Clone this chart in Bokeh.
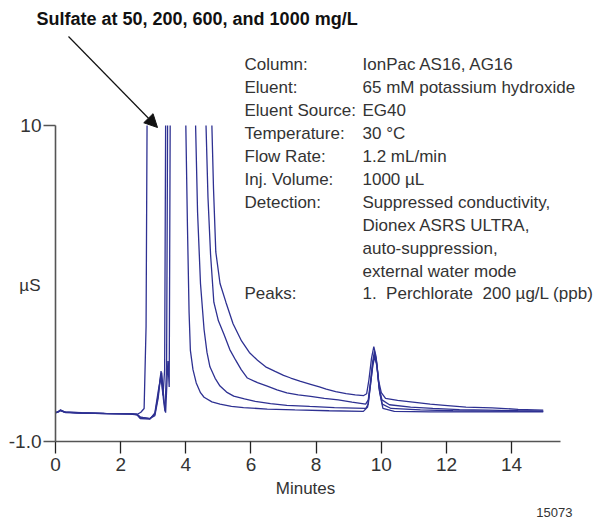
from bokeh.plotting import figure
from bokeh.models import Label, Arrow, NormalHead, FixedTicker, Range1d
from bokeh.embed import file_html
from bokeh.resources import INLINE

NaN = float("nan")
# ---- data (minutes, µS); the sulfate peaks run off scale above 10 µS (gap = off-scale) ----
t_1000 = [0, 0.1, 0.15, 0.25, 0.7, 1.5, 2.3, 2.5, 2.62, 2.72, 2.78, 2.81, 3.8, 4.80, 4.85, 4.92, 5.05, 5.23, 5.45, 5.71, 5.95, 6.2, 6.45, 6.74, 7.0, 7.22, 7.5, 7.83, 8.1, 8.31, 8.6, 8.92, 9.2, 9.46, 9.55, 9.62, 9.70, 9.77, 9.84, 9.92, 10.0, 10.13, 10.5, 10.97, 11.5, 11.94, 12.6, 13.4, 14.2, 14.97]
v_1000 = [0.0, 0.05, 0.1, 0.03, 0.0, -0.02, -0.03, -0.06, 0.02, 0.15, 3.0, 10.0, NaN, 10.0, 7.8, 5.6, 4.5, 3.85, 3.1, 2.5, 2.1, 1.83, 1.6, 1.44, 1.3, 1.21, 1.1, 0.99, 0.9, 0.82, 0.74, 0.67, 0.62, 0.6, 0.66, 1.15, 1.9, 2.3, 1.95, 1.1, 0.7, 0.5, 0.43, 0.37, 0.3, 0.26, 0.2, 0.17, 0.12, 0.09]

t_600 = [0, 0.1, 0.15, 0.3, 0.8, 1.6, 2.3, 2.5, 2.6, 2.9, 3.05, 3.15, 3.23, 3.3, 3.35, 3.38, 4.0, 4.62, 4.68, 4.76, 4.86, 5.0, 5.17, 5.35, 5.53, 5.7, 5.89, 6.2, 6.5, 6.8, 7.1, 7.45, 7.83, 8.25, 8.68, 9.1, 9.52, 9.6, 9.67, 9.73, 9.79, 9.85, 9.93, 10.02, 10.25, 10.9, 11.58, 12.4, 13.3, 14.2, 14.97]
v_600 = [0.0, 0.04, 0.08, 0.02, 0.0, -0.03, -0.04, -0.05, -0.15, -0.2, -0.1, 0.5, 1.3, 0.6, 1.5, 10.0, NaN, 10.0, 7.5, 5.5, 3.85, 3.2, 2.73, 2.2, 1.83, 1.5, 1.21, 1.05, 0.93, 0.8, 0.69, 0.62, 0.57, 0.5, 0.45, 0.37, 0.3, 0.45, 1.1, 1.75, 2.15, 1.8, 0.9, 0.45, 0.28, 0.2, 0.15, 0.11, 0.09, 0.07, 0.06]

t_200 = [0, 0.1, 0.15, 0.3, 0.8, 1.6, 2.3, 2.5, 2.6, 2.9, 3.05, 3.15, 3.24, 3.31, 3.36, 3.41, 3.44, 3.9, 4.30, 4.36, 4.45, 4.56, 4.65, 4.74, 4.9, 5.05, 5.25, 5.47, 5.8, 6.13, 6.6, 7.1, 7.8, 8.56, 9.52, 9.6, 9.68, 9.74, 9.8, 9.86, 9.94, 10.03, 10.3, 11.2, 12.2, 13.4, 14.97]
v_200 = [0.0, 0.05, 0.09, 0.02, -0.01, -0.03, -0.04, -0.06, -0.15, -0.2, -0.05, 0.6, 1.45, 0.5, 0.05, 1.6, 10.0, NaN, 10.0, 7.0, 4.5, 2.9, 2.1, 1.6, 1.2, 0.93, 0.72, 0.58, 0.48, 0.4, 0.32, 0.26, 0.22, 0.18, 0.15, 0.3, 1.1, 1.7, 2.05, 1.7, 0.8, 0.3, 0.15, 0.1, 0.07, 0.06, 0.05]

t_50 = [0, 0.1, 0.15, 0.3, 0.8, 1.6, 2.3, 2.5, 2.6, 2.9, 3.05, 3.16, 3.26, 3.33, 3.38, 3.45, 3.49, 3.52, 3.8, 4.00, 4.05, 4.10, 4.14, 4.22, 4.32, 4.45, 4.56, 4.8, 5.05, 5.4, 5.77, 6.5, 7.35, 8.4, 9.45, 9.58, 9.67, 9.74, 9.8, 9.87, 9.95, 10.05, 10.4, 11.5, 13.0, 14.97]
v_50 = [0.0, 0.04, 0.07, 0.01, -0.01, -0.03, -0.05, -0.07, -0.2, -0.22, 0.0, 0.8, 1.4, 0.4, 0.0, 1.8, 0.9, 10.0, NaN, 10.0, 6.5, 3.5, 2.17, 1.5, 1.04, 0.7, 0.54, 0.38, 0.3, 0.22, 0.18, 0.13, 0.1, 0.07, 0.05, 0.2, 1.0, 1.65, 1.95, 1.6, 0.7, 0.15, 0.05, 0.03, 0.03, 0.03]

x_ticks = [0, 2, 4, 6, 8, 10, 12, 14]
y_ticks = [-1, 10]
y_tick_labels = {-1: "-1.0", 10: "10"}

title_text = "Sulfate at 50, 200, 600, and 1000 mg/L"
info_keys = ["Column:", "Eluent:", "Eluent Source:", "Temperature:", "Flow Rate:", "Inj. Volume:", "Detection:", "", "", "", "Peaks:"]
info_vals = ["IonPac AS16, AG16", "65 mM potassium hydroxide", "EG40", "30 °C", "1.2 mL/min", "1000 µL",
             "Suppressed conductivity,", "Dionex ASRS ULTRA,", "auto-suppression,", "external water mode",
             "1.\u00a0 Perchlorate\u00a0 200 µg/L (ppb)"]

# ---- layout (pixels): the frame is the whole canvas, axes drawn at fixed data locations ----
W, H = 610, 525
AX_X, AX_Y = 55, 441              # pixel column of x=0 min, pixel row of y=-1 µS
PX_MIN = 32.58                    # pixels per minute
PY_TEN = 125                      # pixel row of the 10 µS tick
PX_UNIT = (AX_Y - PY_TEN) / 11.0  # pixels per µS

def dx(px):
    return (px - AX_X) / PX_MIN

def dy(py):
    return -1.0 + (AX_Y - py) / PX_UNIT

FONT = "Liberation Sans"
BLUE = "#2E3192"
GRAY = "#555555"
TXT = "#333333"

p = figure(width=W, height=H, output_backend="svg", toolbar_location=None,
           x_range=Range1d(dx(0), dx(W)), y_range=Range1d(dy(H), dy(0)),
           min_border=0)
p.outline_line_color = None
p.grid.visible = False
p.title.visible = False

for t, v in [(t_50, v_50), (t_200, v_200), (t_600, v_600), (t_1000, v_1000)]:
    p.line(t, v, line_color=BLUE, line_width=1.3)

xa = p.xaxis[0]
xa.fixed_location = -1.0
xa.bounds = (0, 15.5)
xa.ticker = FixedTicker(ticks=x_ticks)
xa.major_label_text_font = FONT
xa.major_label_text_font_size = "19px"
xa.major_label_text_color = TXT
xa.major_label_standoff = 4
xa.major_tick_in = 0
xa.major_tick_out = 12
xa.minor_tick_line_color = None
xa.axis_line_color = GRAY
xa.axis_line_width = 1.6
xa.major_tick_line_color = "#222222"
xa.major_tick_line_width = 1.3

ya = p.yaxis[0]
ya.fixed_location = 0.0
ya.bounds = (-1, 10)
ya.ticker = FixedTicker(ticks=y_ticks)
ya.major_label_overrides = y_tick_labels
ya.major_label_text_font = FONT
ya.major_label_text_font_size = "19px"
ya.major_label_text_color = TXT
ya.major_label_standoff = 2
ya.major_tick_in = 0
ya.major_tick_out = 12
ya.minor_tick_line_color = None
ya.axis_line_color = GRAY
ya.axis_line_width = 1.6
ya.major_tick_line_color = GRAY
ya.major_tick_line_width = 1.3

def lab(px, py, txt, size="17px", align="left", style="normal", color=TXT):
    p.add_layout(Label(x=dx(px), y=dy(py), text=txt, text_font=FONT, text_font_size=size,
                       text_font_style=style, text_align=align, text_baseline="middle",
                       text_color=color))

lab(36, 18, title_text, size="18px", style="bold", color="#111111")
row_y = [64, 87, 110, 133, 156, 179, 202, 225, 248, 271, 293]
for k, v, yy in zip(info_keys, info_vals, row_y):
    if k:
        lab(244, yy, k)
    lab(362, yy, v)
lab(40, 285, "µS", align="right")
lab(305, 488, "Minutes", align="center")
lab(572, 512, "15073", size="13px", align="right")

p.add_layout(Arrow(end=NormalHead(size=13, fill_color="#111111", line_color="#111111"),
                   x_start=dx(68), y_start=dy(36), x_end=dx(157), y_end=dy(127),
                   line_color="#111111", line_width=1.2))

open("out.html", "w").write(file_html(p, INLINE))
